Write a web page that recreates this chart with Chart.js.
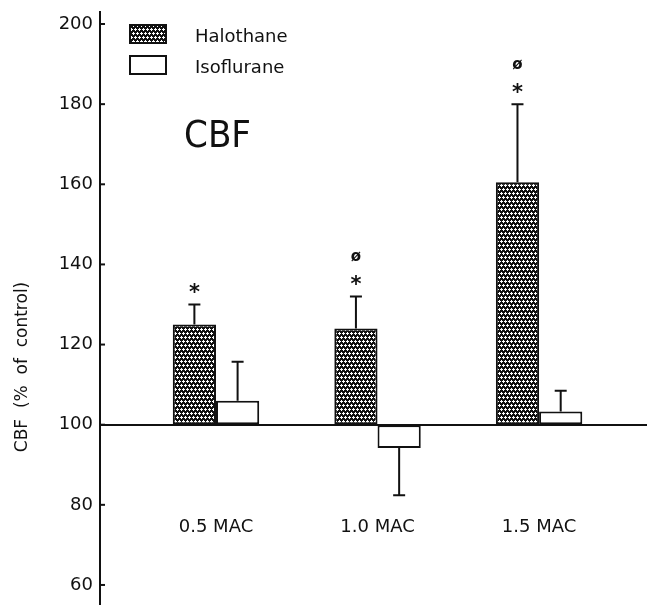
<!DOCTYPE html>
<html>
<head>
<meta charset="utf-8">
<script src="https://cdn.jsdelivr.net/npm/chart.js@4.4.1/dist/chart.umd.min.js"></script>
<style>
  html, body { margin: 0; padding: 0; background: #fff; }
  #wrap { width: 647px; height: 605px; position: relative; }
</style>
</head>
<body>
<div id="wrap"><canvas id="cbf-chart"></canvas></div>
<script>
// --- data ---
const doses = [0.5, 1.0, 1.5];
const categories = ['0.5 MAC', '1.0 MAC', '1.5 MAC'];
const seriesNames = ['Halothane', 'Isoflurane'];
const halothane = [125, 124, 160.5];
const halothaneSE = [5, 8, 19.5];
const isoflurane = [106, 94.2, 103.3];
const isofluraneSE = [9.7, 11.8, 5.2];
const halothaneMarks = [['*'], ['*', 'ø'], ['*', 'ø']];
const isofluraneMarks = [[], [], []];
const yTicks = [60, 80, 100, 120, 140, 160, 180, 200];
const baseline = 100;
const panelLabel = 'CBF';
const yTitle = 'CBF  (%  of  control)';

const INK = '#111';
const FONT = '"DejaVu Sans", "Liberation Sans", sans-serif';

const canvas = document.getElementById('cbf-chart');
const ctx = canvas.getContext('2d');

// dotted black fill used for halothane bars
function makeDots() {
    const tile = document.createElement('canvas');
    tile.width = 8;
    tile.height = 8;
    const c = tile.getContext('2d');
    c.fillStyle = INK;
    c.fillRect(0, 0, 8, 8);
    c.fillStyle = '#fff';
    [[1, 1], [5, 1], [3, 5], [7, 5]].forEach(([cx, cy]) => {
        [0, -8].forEach(dx => {
            c.fillRect(cx - 1 + dx, cy, 3, 1);
            c.fillRect(cx + dx, cy - 1, 1, 3);
        });
    });
    return ctx.createPattern(tile, 'repeat');
}
const dots = makeDots();

// no automatic label padding: the plot runs to the canvas edges
function noPadding(s) {
    s.paddingTop = 0;
    s.paddingBottom = 0;
    s.paddingLeft = 0;
    s.paddingRight = 0;
}

const decorations = {
    id: 'decorations',
    afterDatasetsDraw(chart) {
        const c = chart.ctx;
        const yScale = chart.scales.y;
        const area = chart.chartArea;
        c.save();
        c.strokeStyle = INK;
        c.fillStyle = INK;
        c.lineWidth = 2;

        // error bars + significance marks
        chart.data.datasets.forEach((ds, di) => {
            chart.getDatasetMeta(di).data.forEach((bar, i) => {
                const v = ds.data[i].y;
                const dir = v >= baseline ? 1 : -1;
                const y0 = yScale.getPixelForValue(v);
                const y1 = yScale.getPixelForValue(v + dir * ds.err[i]);
                c.beginPath();
                c.moveTo(bar.x, y0);
                c.lineTo(bar.x, y1);
                c.moveTo(bar.x - 6, y1);
                c.lineTo(bar.x + 6, y1);
                c.stroke();
                (ds.marks[i] || []).forEach((m, k) => {
                    c.textAlign = 'center';
                    c.textBaseline = 'middle';
                    if (m === '*') {
                        c.font = 'bold 21px ' + FONT;
                        c.fillText('*', bar.x, y1 - 11 - k * 21);
                    } else {
                        c.font = 'bold 15px ' + FONT;
                        c.fillText(m, bar.x, y1 - 18 - k * 21);
                    }
                });
            });
        });

        // y tick marks on the inside of the axis
        yTicks.forEach(t => {
            const y = yScale.getPixelForValue(t);
            c.beginPath();
            c.moveTo(area.left, y);
            c.lineTo(area.left + 5, y);
            c.stroke();
        });
        c.restore();
    },
    afterDraw(chart) {
        const c = chart.ctx;
        c.save();
        c.fillStyle = INK;
        c.strokeStyle = INK;
        c.lineWidth = 2;

        // legend
        chart.data.datasets.forEach((ds, i) => {
            const top = 25 + i * 31;
            c.fillStyle = ds.backgroundColor;
            c.fillRect(130, top, 36, 18);
            c.strokeRect(130, top, 36, 18);
            c.fillStyle = INK;
            c.font = '18px ' + FONT;
            c.textAlign = 'left';
            c.textBaseline = 'middle';
            c.fillText(ds.label, 195, top + 12);
        });

        // panel label
        c.font = '38px "DejaVu Sans Condensed", "Liberation Sans Narrow", ' + FONT;
        c.textAlign = 'left';
        c.textBaseline = 'alphabetic';
        c.fillText(panelLabel, 184, 147);

        // y axis title
        c.translate(23, 367);
        c.rotate(-Math.PI / 2);
        c.font = '17px ' + FONT;
        c.textAlign = 'center';
        c.textBaseline = 'middle';
        c.fillText(yTitle, 0, 0);
        c.restore();
    }
};

new Chart(ctx, {
    type: 'bar',
    data: {
        datasets: [
            {
                label: seriesNames[0],
                data: doses.map((d, i) => ({ x: d, y: halothane[i] })),
                err: halothaneSE,
                marks: halothaneMarks,
                backgroundColor: dots,
                borderColor: INK,
                borderWidth: 2,
                borderSkipped: false,
                base: baseline
            },
            {
                label: seriesNames[1],
                data: doses.map((d, i) => ({ x: d, y: isoflurane[i] })),
                err: isofluraneSE,
                marks: isofluraneMarks,
                backgroundColor: '#fff',
                borderColor: INK,
                borderWidth: 2,
                borderSkipped: false,
                base: baseline
            }
        ]
    },
    options: {
        responsive: true,
        maintainAspectRatio: false,
        animation: false,
        barPercentage: 1,
        categoryPercentage: 0.535,
        layout: { padding: { top: 12, right: 0, bottom: 0, left: 0 } },
        plugins: { legend: { display: false }, tooltip: { enabled: false } },
        scales: {
            x: {
                type: 'linear',
                position: { y: baseline },
                min: 0.141,
                max: 1.834,
                offset: false,
                grid: { display: true, drawOnChartArea: false, drawTicks: false },
                border: { display: true, color: INK, width: 2 },
                afterBuildTicks: s => { s.ticks = doses.map(v => ({ value: v })); },
                afterFit: noPadding,
                ticks: {
                    padding: 92,
                    color: INK,
                    autoSkip: false,
                    maxRotation: 0,
                    font: { family: FONT, size: 18 },
                    callback: (v, i) => categories[i]
                }
            },
            y: {
                min: 55,
                max: 203,
                afterBuildTicks: s => { s.ticks = yTicks.map(v => ({ value: v })); },
                afterFit: s => { noPadding(s); s.width = 100; },
                grid: { display: true, drawOnChartArea: false, drawTicks: false },
                border: { display: true, color: INK, width: 2 },
                ticks: { padding: 7, color: INK, font: { family: FONT, size: 18 } }
            }
        }
    },
    plugins: [decorations]
});
</script>
</body>
</html>
